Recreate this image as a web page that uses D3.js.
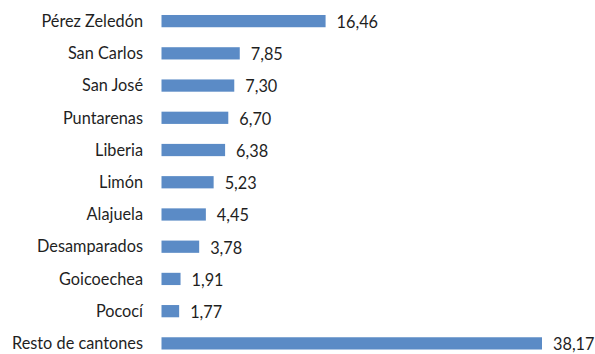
<!DOCTYPE html>
<html>
<head>
<meta charset="utf-8">
<script src="https://cdn.jsdelivr.net/npm/d3@7"></script>
<style>
 body { margin: 0; background: #fff; }
 text { font-family: Lato, "Open Sans", sans-serif; font-size: 16.3px; fill: #1f1f1f; }
</style>
</head>
<body>
<div id="chart"></div>
<script>
//Categories and values, top to bottom.
var cantones = ["Pérez Zeledón", "San Carlos", "San José", "Puntarenas", "Liberia", "Limón",
 "Alajuela", "Desamparados", "Goicoechea", "Pococí", "Resto de cantones"];
var porcentajes = [16.46, 7.85, 7.30, 6.70, 6.38, 5.23, 4.45, 3.78, 1.91, 1.77, 38.17];

var width = 595, height = 354;

var svg = d3.select("#chart").append("svg").attr("width", width).attr("height", height);

//The bars start here, about 10 px per unit.
var x = d3.scaleLinear().domain([0, 38.17]).range([161.5, 542]);

var y = d3.scaleBand().domain(cantones).range([5, 359.5]).paddingInner(0.62).paddingOuter(0.31);

var fmt = function(v) { return d3.format(".2f")(v).replace(".", ","); };

var rows = svg.selectAll("g.row").data(cantones).enter().append("g").attr("class", "row");

//Draw the bars.
rows.append("rect")
 .attr("x", x(0))
 .attr("y", function(d) { return y(d); })
 .attr("width", function(d, i) { return x(porcentajes[i]) - x(0); })
 .attr("height", y.bandwidth())
 .attr("fill", "#5B8BC6");

//Category labels.
rows.append("text")
 .attr("x", 143)
 .attr("y", function(d) { return y(d) + y.bandwidth() / 2; })
 .attr("dy", "0.35em")
 .attr("text-anchor", "end")
 .text(function(d) { return d; });

//Value labels.
rows.append("text")
 .attr("x", function(d, i) { return x(porcentajes[i]) + 11; })
 .attr("y", function(d) { return y(d) + y.bandwidth() / 2; })
 .attr("dy", "0.42em")
 .text(function(d, i) { return fmt(porcentajes[i]); });
</script>
</body>
</html>
